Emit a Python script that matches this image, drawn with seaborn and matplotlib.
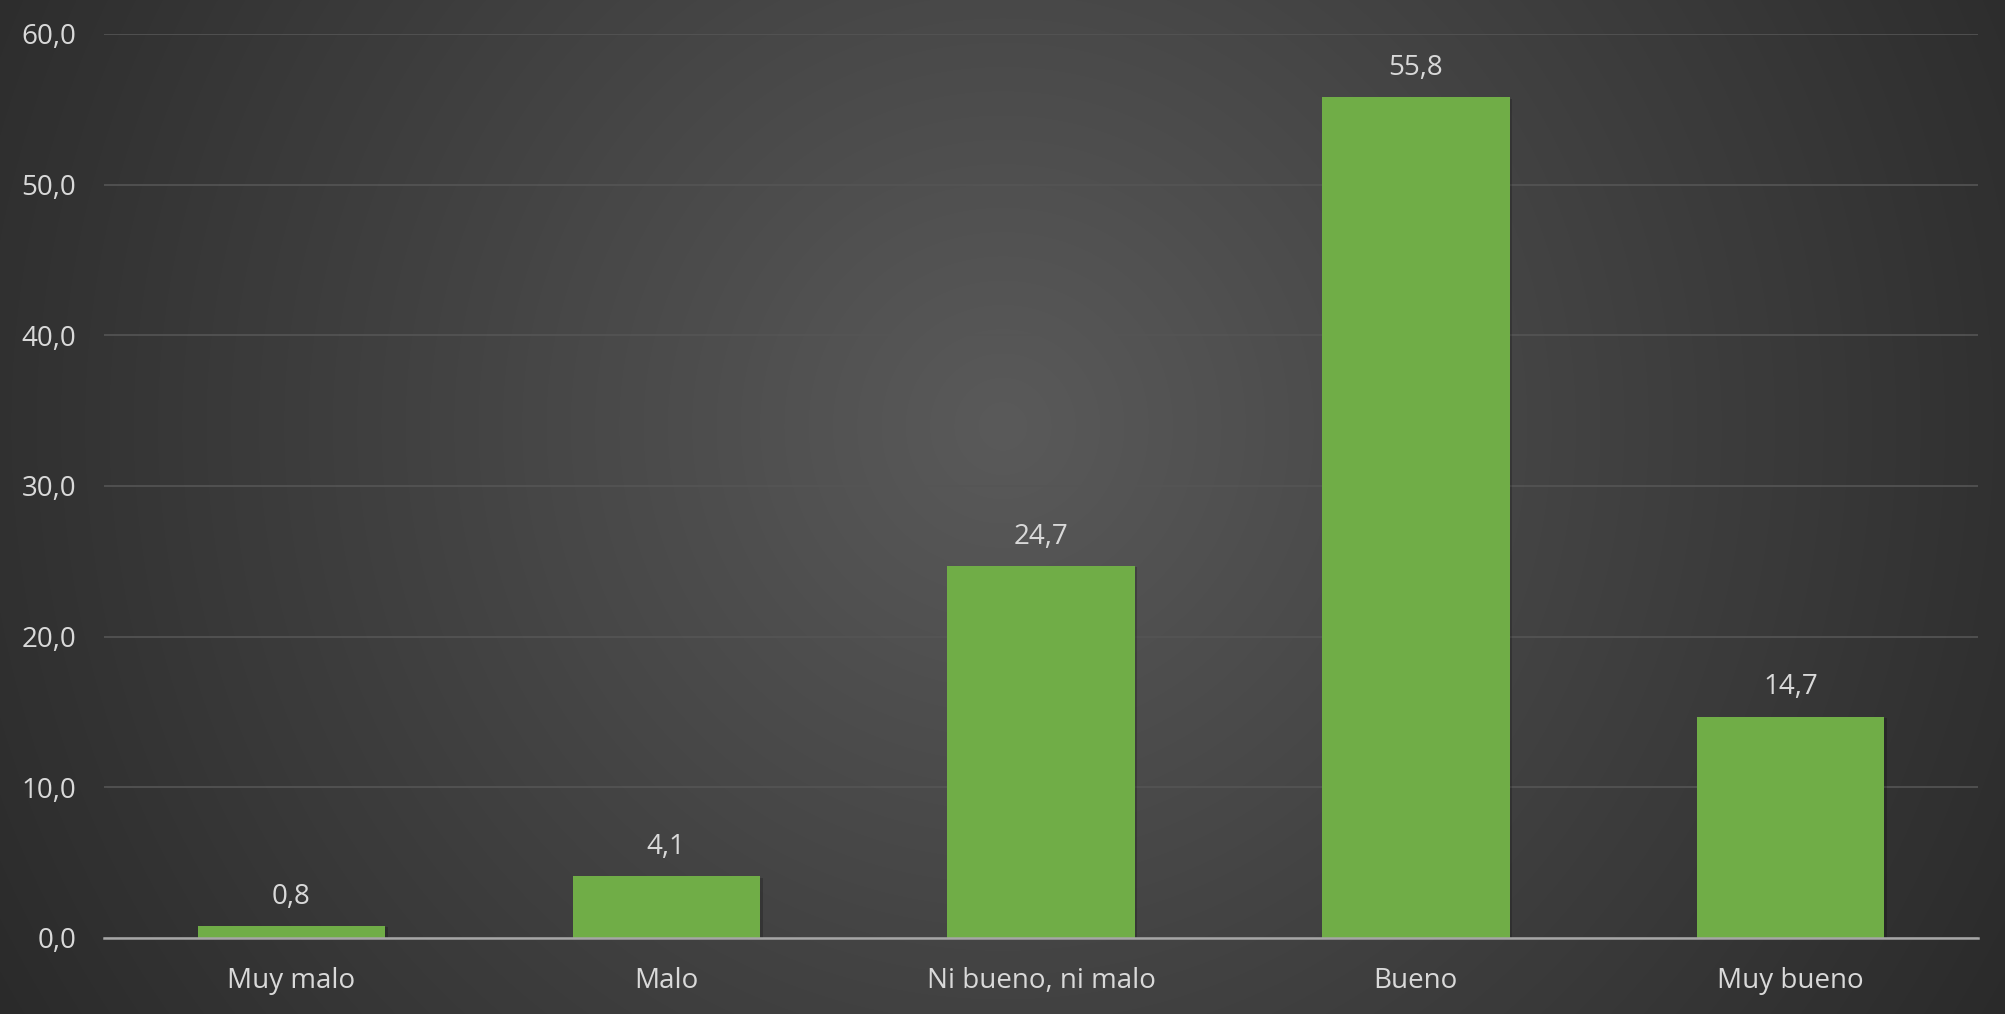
import numpy as np
import pandas as pd
import matplotlib
matplotlib.use("Agg")
import matplotlib.pyplot as plt
import matplotlib.patheffects as pe
from matplotlib.colors import LinearSegmentedColormap
import seaborn as sns

categories = ["Muy malo", "Malo", "Ni bueno, ni malo", "Bueno", "Muy bueno"]
values = [0.8, 4.1, 24.7, 55.8, 14.7]
yticks = [0, 10, 20, 30, 40, 50, 60]

sns.set_theme(style="dark")
plt.rcParams['font.family'] = ['Open Sans', 'DejaVu Sans']

W, H = 2005, 1014
fig = plt.figure(figsize=(W / 100, H / 100), dpi=100)

# radial gradient background
bg = fig.add_axes([0, 0, 1, 1], zorder=-10)
yy, xx = np.mgrid[0:H, 0:W]
cx, cy = 0.50 * W, 0.42 * H
r = np.sqrt(((xx - cx) / (0.62 * W)) ** 2 + ((yy - cy) / (0.62 * W)) ** 2)
r = np.clip(r, 0, 1)
cmap = LinearSegmentedColormap.from_list("bg", ["#5a5a5a", "#404040", "#272727"])
bg.imshow(r, cmap=cmap, aspect="auto", extent=[0, 1, 0, 1], vmin=0, vmax=1)
bg.axis("off")

ax = fig.add_axes([104 / W, 1 - 938 / H, (1978 - 104) / W, (938 - 34) / H])
ax.patch.set_alpha(0)

df = pd.DataFrame({"cat": categories, "val": values})
sns.barplot(data=df, x="cat", y="val", color="#70AD47", width=0.5, ax=ax,
            saturation=1, zorder=3)
for p in ax.patches:
    p.set_edgecolor("none")
    p.set_path_effects([pe.SimplePatchShadow(offset=(2, -1), shadow_rgbFace="black", alpha=0.2),
                        pe.Normal()])

ax.set_ylim(0, 60)
ax.set_xlim(-0.5, 4.5)
ax.set_yticks(yticks)
ax.set_yticklabels([f"{v:.1f}".replace(".", ",") for v in yticks])
ax.set_xlabel("")
ax.set_ylabel("")
ax.grid(axis="y", color="#555555", linewidth=1.2, zorder=0)
ax.grid(axis="x", visible=False)
for s in ["top", "right", "left"]:
    ax.spines[s].set_visible(False)
ax.spines["bottom"].set_color("#a6a6a6")
ax.spines["bottom"].set_linewidth(1.8)
ax.spines["bottom"].set_zorder(4)
ax.tick_params(axis="both", length=0, colors="#d9d9d9", labelsize=20)
ax.tick_params(axis="y", pad=20)
ax.tick_params(axis="x", pad=21)

for i, v in enumerate(values):
    ax.annotate(f"{v:.1f}".replace(".", ","), (i, v), xytext=(0, 11),
                textcoords="offset points", ha="center", va="bottom",
                color="#d9d9d9", fontsize=20)

fig.savefig("out.png", dpi=100)
